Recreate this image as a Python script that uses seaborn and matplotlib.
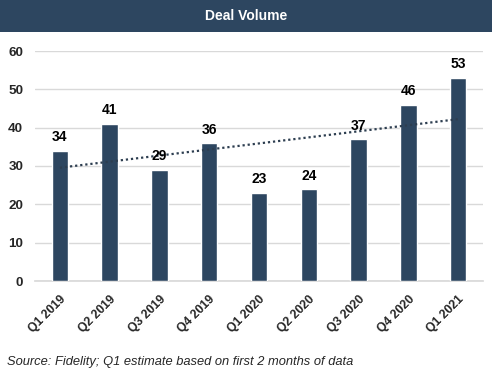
import matplotlib
matplotlib.use("Agg")
import matplotlib.pyplot as plt
import seaborn as sns
import numpy as np
import pandas as pd
from matplotlib.patches import Rectangle

categories = ["Q1 2019", "Q2 2019", "Q3 2019", "Q4 2019", "Q1 2020",
              "Q2 2020", "Q3 2020", "Q4 2020", "Q1 2021"]
values = [34, 41, 29, 36, 23, 24, 37, 46, 53]
title = "Deal Volume"
source = "Source: Fidelity; Q1 estimate based on first 2 months of data"

navy = "#2D4660"
sns.set_theme(style="white")
plt.rcParams['font.family'] = ['Liberation Sans', 'DejaVu Sans']

fig = plt.figure(figsize=(4.92, 3.77), dpi=100)
fig.patches.append(Rectangle((0, 1 - 32/377), 1, 32/377, transform=fig.transFigure,
                             facecolor=navy, edgecolor="none", zorder=0))
fig.text(0.5, 1 - 16/377, title, color="white", ha="center", va="center",
         fontsize=10, fontweight="bold")

ax = fig.add_axes([35/492, 1 - 281/377, 448/492, 230/377])
df = pd.DataFrame({"cat": categories, "val": values})
sns.barplot(data=df, x="cat", y="val", color=navy, saturation=1, width=0.33, ax=ax, zorder=3)

x = np.arange(len(values))
slope, intercept = np.polyfit(x, values, 1)
ax.plot(x, slope * x + intercept, linestyle=(0, (1, 1.3)), color="#2D3E50", lw=1.6, zorder=4)

for xi, v in zip(x, values):
    ax.annotate(str(v), (xi, v), xytext=(0, 9.7), textcoords="offset points",
                ha="center", va="center", fontsize=10, fontweight="bold", color="black",
                zorder=5)

ax.set_ylim(0, 60)
ax.set_yticks(range(0, 61, 10))
ax.set_xlim(-0.5, len(values) - 0.5)
ax.yaxis.grid(True, color="#D9D9D9", lw=1, zorder=0)
ax.set_axisbelow(True)
for s in ["top", "right", "left"]:
    ax.spines[s].set_visible(False)
ax.spines["bottom"].set_color("#D9D9D9")
ax.tick_params(axis="both", length=0)
ax.tick_params(axis="y", labelsize=9.7, pad=8.5)
for lab in ax.get_yticklabels():
    lab.set_fontweight("bold")
ax.set_xticks(x)
ax.set_xticklabels(categories, rotation=45, ha="right", rotation_mode="anchor",
                   fontweight="bold", fontsize=8.8)
ax.tick_params(axis="x", pad=9)
ax.set_xlabel("")
ax.set_ylabel("")

fig.text(7/492, 1 - 362/377, source, fontsize=9.25, style="italic", ha="left", va="center")

fig.savefig("out.png", dpi=100)
